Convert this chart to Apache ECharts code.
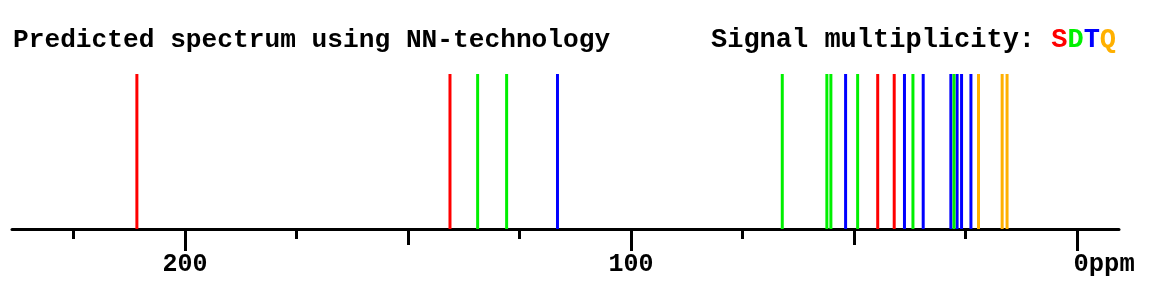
<!DOCTYPE html>
<html>
<head>
<meta charset="utf-8">
<script src="https://cdn.jsdelivr.net/npm/echarts@6/dist/echarts.min.js"></script>
<style>html,body{margin:0;padding:0;background:#fff}#c{width:1173px;height:290px}</style>
</head>
<body>
<div id="c"></div>
<script>
// chemical shifts (ppm) by multiplicity
const singletPeaks = [210.8, 140.6, 44.7, 41.0];
const doubletPeaks = [134.4, 127.9, 66.1, 56.1, 55.2, 49.2, 36.8, 27.6];
const tripletPeaks = [116.5, 51.9, 38.7, 34.5, 28.3, 26.9, 25.9, 23.8];
const quartetPeaks = [22.1, 16.8, 15.7];
const majorTicks = [0, 100, 200];
const mediumTicks = [50, 150];
const minorTicks = [25, 75, 125, 175, 225];
const axisMin = -9.4, axisMax = 238.8;

const COL = {S: '#ff0000', D: '#00f000', T: '#0000ff', Q: '#ffb000'};
const FONT = 'Liberation Mono';

function peakSeries(name, arr, color) {
  return {
    name: name, type: 'bar', xAxisIndex: 0, yAxisIndex: 0,
    barWidth: 3, barGap: '-100%',
    itemStyle: {color: color},
    data: arr.map(v => [v, 1]),
    silent: true, animation: false
  };
}

function baseAxis(ticks, len, extra) {
  return Object.assign({
    type: 'value', position: 'bottom', inverse: true,
    min: axisMin, max: axisMax,
    axisLine: {show: false},
    splitLine: {show: false},
    axisLabel: {show: false},
    axisTick: {show: true, customValues: ticks, length: len, lineStyle: {color: '#000', width: 3}}
  }, extra || {});
}

const T2 = 27;
const chart = echarts.init(document.getElementById('c'), null, {renderer: 'canvas'});
chart.setOption({
  animation: false,
  backgroundColor: '#fff',
  title: [
    {text: 'Predicted spectrum using NN-technology', left: 8, top: 22,
     textStyle: {fontFamily: FONT, fontWeight: 'bold', fontSize: 26.2, color: '#000'}},
    {text: '{k|Signal multiplicity: }{s|S}{d|D}{t|T}{q|Q}', left: 706, top: 22,
     textStyle: {fontFamily: FONT, fontWeight: 'bold', fontSize: T2, color: '#000',
       rich: {
         k: {fontFamily: FONT, fontWeight: 'bold', fontSize: T2, color: '#000'},
         s: {fontFamily: FONT, fontWeight: 'bold', fontSize: T2, color: COL.S},
         d: {fontFamily: FONT, fontWeight: 'bold', fontSize: T2, color: COL.D},
         t: {fontFamily: FONT, fontWeight: 'bold', fontSize: T2, color: COL.T},
         q: {fontFamily: FONT, fontWeight: 'bold', fontSize: T2, color: COL.Q}
       }}}
  ],
  grid: {left: 12, right: 54, top: 74, bottom: 61, containLabel: false},
  xAxis: [
    baseAxis(majorTicks, 22, {
      axisLine: {show: true, lineStyle: {color: '#000', width: 3}},
      axisLabel: {
        show: true, customValues: majorTicks, margin: 23,
        fontFamily: FONT, fontWeight: 'bold', fontSize: 25, color: '#000',
        formatter: function (v) { return v === 0 ? '{z|0ppm}' : String(v); },
        rich: {z: {fontFamily: FONT, fontWeight: 'bold', fontSize: 25.5, color: '#000', padding: [0, 0, 0, 54]}}
      }
    }),
    baseAxis(mediumTicks, 16),
    baseAxis(minorTicks, 10)
  ],
  yAxis: {type: 'value', min: 0, max: 1, show: false},
  series: [
    peakSeries('T', tripletPeaks, COL.T),
    peakSeries('D', doubletPeaks, COL.D),
    peakSeries('S', singletPeaks, COL.S),
    peakSeries('Q', quartetPeaks, COL.Q)
  ]
});
</script>
</body>
</html>
